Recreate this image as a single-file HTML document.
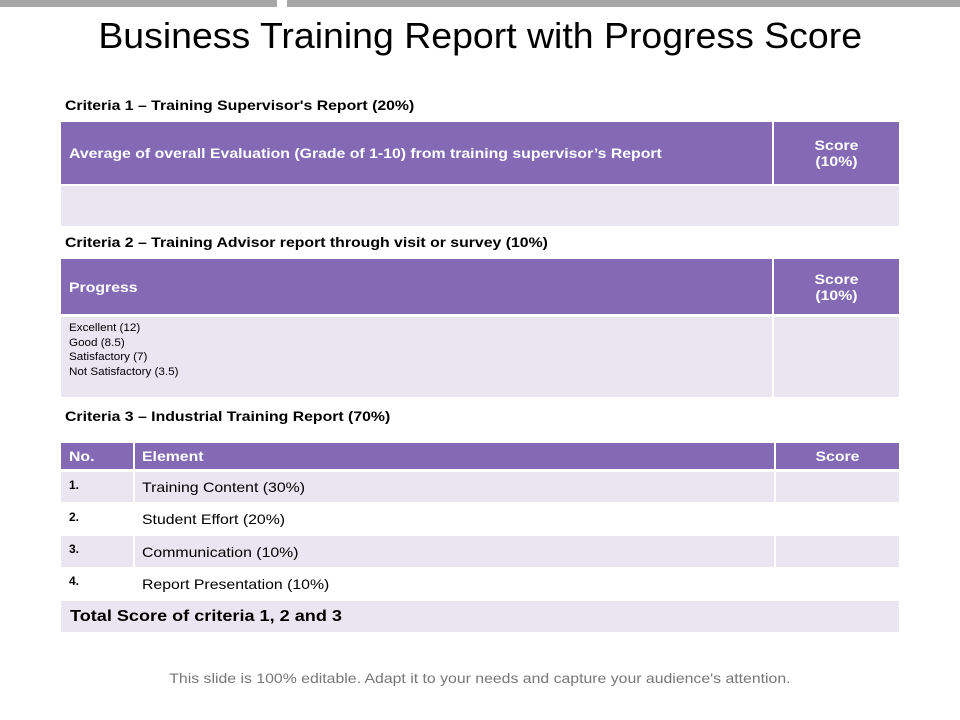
<!DOCTYPE html>
<html><head><meta charset="utf-8"><style>
body{margin:0;width:960px;height:720px;position:relative;background:#fff;font-family:"Liberation Sans",sans-serif;overflow:hidden}
div{position:absolute;box-sizing:border-box}
span.s{display:inline-block;transform:scaleX(1.13);transform-origin:left center;white-space:nowrap}
.c span.s,span.sc{display:inline-block;transform:scaleX(1.13);transform-origin:center center;white-space:nowrap}
.p{background:#8469b5;color:#fff;font-weight:bold;font-size:14px;display:flex;align-items:center}
.l{background:#e9e6f2}
.c{justify-content:center;text-align:center}
.lab{font-weight:bold;font-size:14px;color:#000}
.t{font-size:14px;display:flex;align-items:center}
</style></head><body>
<div style="left:0;top:0;width:277px;height:7px;background:#a6a6a6"></div>
<div style="left:287px;top:0;width:673px;height:7px;background:#a6a6a6"></div>
<div style="left:0;top:15px;width:960px;text-align:center;font-size:36px;color:#000"><span class="sc" style="transform:scaleX(1.04)">Business Training Report with Progress Score</span></div>

<div class="lab" style="left:65px;top:97px"><span class="s">Criteria 1 – Training Supervisor's Report (20%)</span></div>
<div class="p" style="left:61px;top:122px;width:711px;height:62px;padding-left:8px"><span class="s">Average of overall Evaluation (Grade of 1-10) from training supervisor’s Report</span></div>
<div class="p c" style="left:774px;top:122px;width:125px;height:62px"><span class="sc">Score<br>(10%)</span></div>
<div class="l" style="left:61px;top:186px;width:838px;height:40px"></div>

<div class="lab" style="left:65px;top:234px"><span class="s">Criteria 2 – Training Advisor report through visit or survey (10%)</span></div>
<div class="p" style="left:61px;top:259px;width:711px;height:55px;padding-left:8px"><span class="s">Progress</span></div>
<div class="p c" style="left:774px;top:259px;width:125px;height:55px"><span class="sc">Score<br>(10%)</span></div>
<div class="l" style="left:61px;top:317px;width:711px;height:80px;padding:4px 8px;font-size:11px;line-height:14.5px"><span class="s" style="transform:scaleX(1.06)">Excellent (12)<br>Good (8.5)<br>Satisfactory (7)<br>Not Satisfactory (3.5)</span></div>
<div class="l" style="left:774px;top:317px;width:125px;height:80px"></div>

<div class="lab" style="left:65px;top:408px"><span class="s">Criteria 3 – Industrial Training Report (70%)</span></div>
<div class="p" style="left:61px;top:443px;width:72px;height:26px;padding-left:8px"><span class="s">No.</span></div>
<div class="p" style="left:135px;top:443px;width:639px;height:26px;padding-left:7px"><span class="s">Element</span></div>
<div class="p c" style="left:776px;top:443px;width:123px;height:26px"><span class="sc">Score</span></div>

<div class="l" style="left:61px;top:472px;width:838px;height:30px"></div>
<div class="l" style="left:61px;top:536px;width:838px;height:31px"></div>
<div style="left:133px;top:472px;width:2px;height:30px;background:#fff"></div>
<div style="left:774px;top:472px;width:2px;height:30px;background:#fff"></div>
<div style="left:133px;top:536px;width:2px;height:31px;background:#fff"></div>
<div style="left:774px;top:536px;width:2px;height:31px;background:#fff"></div>

<div class="t" style="left:69px;top:472px;height:26px;font-weight:bold;font-size:12px">1.</div>
<div class="t" style="left:142px;top:472px;height:30px"><span class="s">Training Content (30%)</span></div>
<div class="t" style="left:69px;top:504px;height:26px;font-weight:bold;font-size:12px">2.</div>
<div class="t" style="left:142px;top:503px;height:31px"><span class="s">Student Effort (20%)</span></div>
<div class="t" style="left:69px;top:536px;height:26px;font-weight:bold;font-size:12px">3.</div>
<div class="t" style="left:142px;top:536px;height:31px"><span class="s">Communication (10%)</span></div>
<div class="t" style="left:69px;top:568px;height:26px;font-weight:bold;font-size:12px">4.</div>
<div class="t" style="left:142px;top:568px;height:31px"><span class="s">Report Presentation (10%)</span></div>

<div class="l t" style="left:61px;top:601px;width:838px;height:31px;padding-left:9px;font-weight:bold;font-size:16px"><span class="s">Total Score of criteria 1, 2 and 3</span></div>

<div style="left:0;top:670px;width:960px;text-align:center;font-size:14px;color:#777"><span class="sc">This slide is 100% editable. Adapt it to your needs and capture your audience's attention.</span></div>
</body></html>
